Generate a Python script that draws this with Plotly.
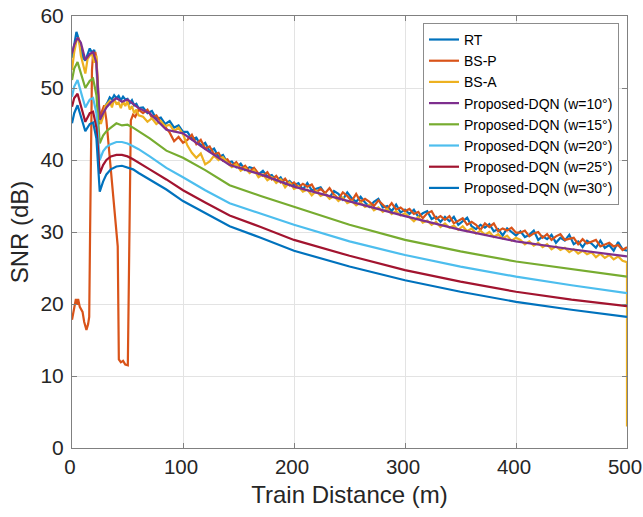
import plotly.graph_objects as go

# ---------------- data ----------------
x_noisy = [0, 2, 4, 6, 8, 10, 12, 14, 16, 18, 20, 22, 24, 26, 28, 30, 32, 34, 36, 38,
           40, 42, 44, 46, 48, 50, 52, 54, 56, 58, 60] + list(range(64, 501, 4))

rt = [54.2, 56.0, 57.8, 56.8, 55.6, 54.2, 53.8, 54.8, 55.5, 54.9, 55.3, 53.6, 45.0, 45.5, 46.3,
      47.5, 48.0, 48.7, 48.4, 49.0, 48.6, 48.9, 48.3, 48.8, 48.4, 48.5, 47.9, 48.3, 47.6, 47.8, 47.2,
      47.3, 46.5, 46.8, 45.7, 45.9, 45.0, 45.4, 44.5, 44.8, 43.9,
      43.9, 42.9, 43.1, 42.0, 42.4, 41.2, 41.6, 40.4, 40.7, 39.6,
      39.8, 39.0, 39.5, 38.6, 39.0, 38.8, 38.0, 38.5, 37.7, 37.9, 37.1, 37.6, 36.6, 37.1, 36.5,
      36.8, 35.9, 36.8, 35.8, 36.0, 36.2, 35.3, 34.8, 35.7, 35.3, 34.5, 35.5, 34.7, 34.2, 34.9,
      34.1, 33.5, 34.2, 34.6, 33.4, 33.6, 32.9, 33.8, 32.7, 33.1,
      32.5, 33.1, 32.1, 32.6, 32.9, 31.8, 32.1, 31.4, 32.1, 31.5, 32.1, 31.0, 31.5, 32.0, 30.8,
      30.4, 31.0, 30.6, 31.1, 30.1, 30.4, 29.5, 30.5, 30.0, 29.5,
      30.1, 29.3, 29.6, 30.2, 28.9, 29.4, 29.0, 29.6, 28.5, 29.2, 28.8, 29.6, 28.3, 28.7, 27.9,
      28.8, 28.4, 27.8, 28.8, 27.8, 28.2, 27.4, 28.6, 27.6, 27.4]

bsa = [52.5, 55.0, 56.5, 57.0, 54.5, 53.0, 52.0, 54.0, 54.5, 54.8, 53.5, 54.5, 46.5, 45.0, 46.0,
       47.5, 47.8, 48.2, 47.3, 48.5, 47.8, 48.0, 47.2, 48.2, 47.5, 48.2, 47.0, 47.5, 46.5, 47.0, 46.2,
       46.0, 45.3, 45.8, 45.0, 45.4, 44.7, 44.9, 44.0, 44.5, 43.6,
       42.0, 41.0, 40.3, 40.9, 39.4, 39.8, 40.6, 40.0, 40.4, 39.6,
       39.0, 39.4, 38.5, 38.9, 38.2, 38.6, 37.6, 38.0, 37.2, 37.6, 36.8, 37.3, 36.2, 36.9, 36.0,
       36.3, 35.6, 35.9, 35.1, 35.7, 35.0, 35.3, 34.6, 35.0, 34.3, 34.8, 34.0, 34.3, 33.7, 34.1,
       33.5, 33.8, 33.0, 33.4, 32.8, 33.2, 32.5, 32.9, 32.3, 32.6,
       32.0, 31.5, 32.1, 31.3, 31.6, 31.0, 31.4, 30.7, 31.2, 30.6, 30.9, 30.3, 30.8, 30.1, 30.5,
       29.8, 30.2, 29.6, 30.0, 29.3, 29.7, 29.1, 29.5, 28.8, 29.2,
       28.9, 28.3, 28.7, 28.1, 28.5, 27.9, 28.3, 27.6, 28.0, 27.5, 27.8, 27.2, 27.6, 27.0, 27.4,
       26.9, 27.2, 26.5, 27.0, 26.4, 26.8, 26.2, 26.6, 26.0, 25.8]
x_bsa = x_noisy + [500]
bsa = bsa + [3.0]

x_bsp = [0, 2, 3.5, 4.5, 5.5, 7, 9.5, 11, 13, 14.5, 15.5, 16.3, 17, 18, 19, 20, 21, 22, 23.5,
         25, 27, 29, 31, 33, 35.5, 37, 38.4, 40, 41.2, 42.2, 44, 46, 48, 50.3, 51.2, 52, 53,
         55, 57, 60] + list(range(64, 501, 4))
bsp = [17.8, 19.5, 20.7, 19.9, 20.7, 19.6, 18.9, 17.5, 16.4, 17.2, 18.2, 30.0, 45.0, 52.5,
       54.8, 54.3, 55.0, 54.0, 50.0, 45.8, 46.8, 47.6, 45.5, 42.0, 37.2, 34.5, 32.6, 30.0, 28.0,
       12.3, 11.9, 12.1, 11.6, 11.5, 25.0, 40.0, 45.5, 46.3, 46.0, 47.0,
       46.5, 47.0, 45.9, 46.2, 45.3, 44.6, 43.8, 42.6, 43.2, 42.4,
       42.8, 43.5, 42.2, 42.8, 41.6, 41.9, 40.8, 41.0, 39.9, 40.1,
       39.2, 39.7, 38.8, 39.2, 38.4, 38.9, 38.1, 37.8, 38.3, 37.3, 37.8, 36.9, 37.4, 36.5, 36.9,
       36.2, 36.7, 36.3, 36.6, 35.5, 36.0, 35.4, 36.1, 35.2, 34.6, 35.5, 35.0, 34.3, 35.3, 34.2,
       34.6, 34.2, 33.6, 34.4, 33.8, 33.2, 34.0, 33.1, 33.4, 32.9,
       33.2, 32.5, 32.8, 31.9, 32.6, 32.9, 31.8, 32.2, 31.7, 32.2, 31.2, 31.6, 31.9, 31.0, 31.4,
       31.0, 30.3, 31.2, 30.7, 31.2, 30.1, 30.5, 30.2, 30.6, 29.9,
       29.9, 30.2, 29.4, 29.8, 30.0, 29.2, 29.7, 28.9, 29.4, 29.7, 28.9, 29.0, 29.2, 28.3, 29.0,
       28.4, 28.7, 28.9, 28.0, 28.3, 28.5, 28.0, 28.2, 27.5, 27.9]

x_dqn = [0, 2, 5, 8, 12, 16, 19, 22, 25, 28, 31, 35, 40, 45, 50, 55, 60, 70, 85, 100,
         120, 142, 170, 200, 250, 300, 350, 400, 450, 500]
dqn_w10 = [54.8, 56.0, 57.0, 56.3, 53.9, 54.7, 55.0, 53.5, 45.6, 46.5, 47.3, 48.0, 48.6, 48.1,
           48.4, 47.8, 47.2, 46.5, 44.2, 43.7, 41.5, 39.3, 38.0, 36.3, 34.2, 32.2, 30.3, 28.7,
           27.6, 26.6]
dqn_w15 = [51.1, 52.7, 53.6, 52.0, 50.0, 51.0, 51.3, 49.0, 42.3, 43.4, 44.0, 44.5, 45.1, 44.8,
           44.9, 44.5, 44.0, 43.0, 41.3, 40.3, 38.6, 36.5, 35.0, 33.5, 31.0, 28.9, 27.3, 25.9,
           24.8, 23.8]
dqn_w20 = [48.8, 50.2, 51.1, 49.5, 47.3, 48.4, 48.6, 46.5, 40.0, 41.2, 41.8, 42.2, 42.5, 42.5,
           42.3, 41.9, 41.5, 40.5, 38.9, 37.6, 35.8, 34.0, 32.6, 31.0, 28.7, 26.8, 25.2, 23.8,
           22.6, 21.5]
dqn_w25 = [47.4, 48.6, 49.2, 47.5, 45.3, 46.5, 46.7, 44.5, 38.1, 39.3, 40.0, 40.5, 40.7, 40.7,
           40.5, 40.1, 39.6, 38.7, 37.3, 35.8, 34.1, 32.3, 30.7, 28.9, 26.7, 24.7, 23.1, 21.7,
           20.6, 19.7]
dqn_w30 = [45.1, 46.5, 47.6, 46.0, 44.0, 45.0, 45.2, 43.0, 35.6, 37.0, 38.0, 38.7, 39.1, 39.2,
           39.0, 38.7, 38.2, 37.3, 35.9, 34.3, 32.6, 30.8, 29.2, 27.4, 25.2, 23.3, 21.7, 20.3,
           19.2, 18.2]

x_ticks = [0, 100, 200, 300, 400, 500]
y_ticks = [0, 10, 20, 30, 40, 50, 60]

# ---------------- figure ----------------
series = [
    ("RT", x_noisy, rt, "#0072BD"),
    ("BS-P", x_bsp, bsp, "#D95319"),
    ("BS-A", x_bsa, bsa, "#EDB120"),
    ("Proposed-DQN (w=10°)", x_dqn, dqn_w10, "#7E2F8E"),
    ("Proposed-DQN (w=15°)", x_dqn, dqn_w15, "#77AC30"),
    ("Proposed-DQN (w=20°)", x_dqn, dqn_w20, "#4DBEEE"),
    ("Proposed-DQN (w=25°)", x_dqn, dqn_w25, "#A2142F"),
    ("Proposed-DQN (w=30°)", x_dqn, dqn_w30, "#0072BD"),
]

fig = go.Figure()
for name, xs, ys, col in series:
    fig.add_trace(go.Scatter(x=xs, y=ys, mode="lines", name=name,
                             line=dict(color=col, width=2.2)))

font_family = "Liberation Sans, Arial, Helvetica, sans-serif"
axis_common = dict(
    automargin=False,
    showgrid=True, gridcolor="#e3e3e3", gridwidth=1,
    showline=True, linecolor="#808080", linewidth=1, mirror="allticks",
    ticks="inside", ticklen=5, tickcolor="#808080",
    zeroline=False, ticklabeloverflow="allow",
)

fig.update_layout(
    width=643, height=517,
    margin=dict(l=72, r=16, t=16, b=69),
    paper_bgcolor="white", plot_bgcolor="white",
    font=dict(family=font_family, color="#262626"),
    xaxis=dict(range=[0, 500], tickvals=x_ticks, ticklabelshift=-2,
               tickfont=dict(family=font_family, size=20.5, color="#262626"),
               title=dict(text="Train Distance (m)", font=dict(size=24, color="#262626"), standoff=9),
               **axis_common),
    yaxis=dict(range=[0, 60], tickvals=y_ticks, ticklabelstandoff=3,
               tickfont=dict(family=font_family, size=21, color="#262626"),
               title=dict(text="SNR (dB)", font=dict(size=24, color="#262626"), standoff=5),
               **axis_common),
    legend=dict(x=0.9856, y=0.984, xanchor="right", yanchor="top",
                bgcolor="white", bordercolor="#8c8c8c", borderwidth=1,
                font=dict(family=font_family, size=14, color="#000000"),
                itemwidth=30, tracegroupgap=0),
    showlegend=True,
)

fig.write_html("out.html")
